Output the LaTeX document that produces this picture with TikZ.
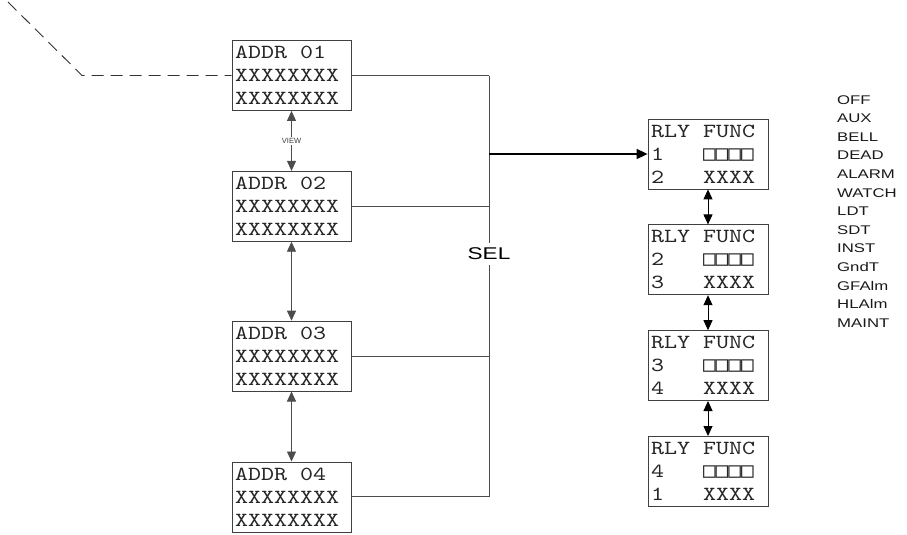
\documentclass[tikz,border=0pt]{standalone}
\usepackage{fontspec}
\setmainfont{Liberation Sans}
\newfontfamily\widesans[FakeStretch=1.33]{Liberation Sans}
\newfontfamily\lcdfont[FakeStretch=1.24]{lmmono10-regular.otf}
\newfontfamily\cellfont{DejaVu Sans Mono}
\usepackage{tikz}
\usetikzlibrary{arrows.meta, positioning}

\newcommand{\cells}{\makebox[0pt][l]{\cellfont\fontsize{21}{23}\selectfont □□□□}\phantom{XXXX}}

\begin{document}
\begin{tikzpicture}[
  x=1pt, y=-1pt,
  node distance=35pt,
  lcd/.style={rectangle, draw=black!75, line width=0.8pt, fill=white,
              text=black!85, text width=113pt, inner xsep=3pt, inner ysep=2pt,
              minimum height=70pt, align=left,
              font=\lcdfont\fontsize{20}{23}\selectfont},
  rlybox/.style={lcd, text width=114pt},
  wire/.style={draw=black!70, line width=0.9pt},
  updown/.style={{Triangle[length=10pt, width=9pt]}-{Triangle[length=10pt, width=9pt]},
                 draw=black!70, line width=0.9pt},
  selarrow/.style={-{Triangle[length=11pt, width=10pt]}, line width=1.5pt}
]
\useasboundingbox (0,0) rectangle (907,535);

% address screens
\node[lcd] (addr1) at (291.5,75.5) {ADDR\phantom{X}01\\XXXXXXXX\\XXXXXXXX};
\node[lcd, below=60pt of addr1] (addr2) {ADDR\phantom{X}02\\XXXXXXXX\\XXXXXXXX};
\node[lcd, below=79pt of addr2] (addr3) {ADDR\phantom{X}03\\XXXXXXXX\\XXXXXXXX};
\node[lcd, below=70pt of addr3] (addr4) {ADDR\phantom{X}04\\XXXXXXXX\\XXXXXXXX};

% relay function screens
\node[rlybox] (rly1) at (708,154) {RLY\phantom{X}FUNC\\1\phantom{XXX}\cells\\2\phantom{XXX}XXXX};
\node[rlybox, below=of rly1] (rly2) {RLY\phantom{X}FUNC\\2\phantom{XXX}\cells\\3\phantom{XXX}XXXX};
\node[rlybox, below=of rly2] (rly3) {RLY\phantom{X}FUNC\\3\phantom{XXX}\cells\\4\phantom{XXX}XXXX};
\node[rlybox, below=of rly3] (rly4) {RLY\phantom{X}FUNC\\4\phantom{XXX}\cells\\1\phantom{XXX}XXXX};

% incoming dashed path
\coordinate (dstart) at (8,2);
\coordinate (dbend) at (82,75.5);
\draw[black!80, line width=0.9pt, dash pattern=on 12pt off 7pt]
  (dstart) -- (dbend) -- (addr1.west);

% select bus
\coordinate (bus) at (489,0);
\draw[wire] (addr1.east) -- (addr1.east -| bus);
\draw[wire] (addr2.east) -- (addr2.east -| bus);
\draw[wire] (addr3.east) -- (addr3.east -| bus);
\draw[wire] (addr4.east) -- (addr4.east -| bus);
\draw[wire] (addr1.east -| bus) -- (addr4.east -| bus);
\node[fill=white, inner xsep=2pt, inner ysep=5pt, font=\widesans\fontsize{17}{19}\selectfont]
  (sel) at (489,254) {SEL};
\draw[selarrow] (rly1.west -| bus) -- (rly1.west);

% view arrows
\draw[updown] (addr1.south) -- node[fill=white, inner sep=1.5pt,
  font=\fontsize{7.5}{8}\selectfont, text=black!75] (view) {VIEW} (addr2.north);
\draw[updown] (addr2.south) -- (addr3.north);
\draw[updown] (addr3.south) -- (addr4.north);

\draw[updown, draw=black] (rly1.south) -- (rly2.north);
\draw[updown, draw=black] (rly2.south) -- (rly3.north);
\draw[updown, draw=black] (rly3.south) -- (rly4.north);

% function list
\node[anchor=north west, inner sep=0pt, align=left, text=black!90,
      font=\widesans\fontsize{12.6}{18.6}\selectfont] (funcs) at (837,95)
  {OFF\\AUX\\BELL\\DEAD\\ALARM\\WATCH\\LDT\\SDT\\INST\\GndT\\GFAlm\\HLAlm\\MAINT};

\end{tikzpicture}
\end{document}
